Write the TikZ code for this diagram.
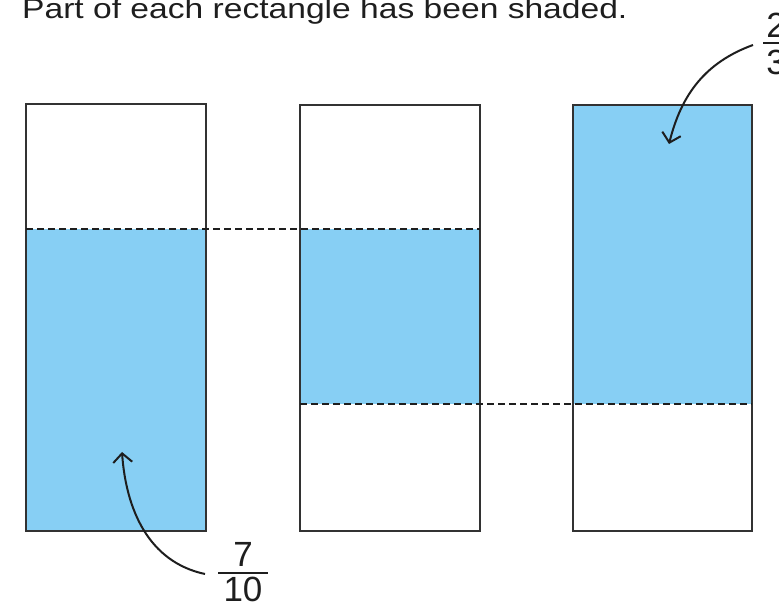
\documentclass[tikz,border=0pt]{standalone}
\usepackage{fontspec}
\setmainfont{Liberation Sans}
\usetikzlibrary{arrows.meta}
\definecolor{shadeblue}{RGB}{135,207,244}
\definecolor{edgegray}{RGB}{50,50,50}
\definecolor{inkblack}{RGB}{30,30,30}
\begin{document}
\begin{tikzpicture}[x=1pt,y=1pt,
  box/.style={draw=edgegray,line width=2.4pt,minimum width=180pt,minimum height=427pt,inner sep=0pt,outer sep=0pt},
  shadefill/.style={fill=shadeblue},
  dashline/.style={draw=inkblack,line width=2pt,dash pattern=on 7pt off 4pt},
  digit/.style={font=\fontsize{35}{40}\selectfont,text=inkblack,inner sep=0pt,anchor=base},
  fracbar/.style={draw=inkblack,line width=2.2pt},
  pointer/.style={draw=inkblack,line width=2pt,-{Straight Barb[length=9pt,width=19pt,line width=2pt]}}]
\useasboundingbox (0,0) rectangle (779,608);
\path (116,290.5) coordinate (c1) (390,290) coordinate (c2) (662.5,290) coordinate (c3);
% shading first
\fill[shadefill] (26,77) rectangle (206,379);
\fill[shadefill] (300,204) rectangle (480,379);
\fill[shadefill] (573,204) rectangle (752,503);
\node[box] (r1) at (c1) {};
\node[box,minimum width=180pt,minimum height=426pt] (r2) at (c2) {};
\node[box,minimum width=179pt,minimum height=426pt] (r3) at (c3) {};
% dashed guide lines
\draw[dashline] (r1.west |- 0,379) -- (r2.east |- 0,379);
\draw[dashline] (r2.west |- 0,204) -- (r3.east |- 0,204);
% title
\node[font=\fontsize{28}{34}\selectfont,text=inkblack,inner sep=0pt,anchor=base west] (title) at (22,589) {\scalebox{1.2}[1]{Part of each rectangle has been shaded.}};
% fraction 7/10
\coordinate (b710) at (243,35);
\node[digit] (n7) at (243,42) {7};
\node[digit] (d10) at (243,7) {10};
\draw[fracbar] ([xshift=-25pt]b710) coordinate (b710w) -- ([xshift=25pt]b710) coordinate (b710e);
% fraction 2/3
\coordinate (b23) at (776,565);
\node[digit] (n2) at (776,570) {2};
\node[digit] (d3) at (776,533) {3};
\draw[fracbar] ([xshift=-13pt]b23) coordinate (b23w) -- ([xshift=13pt]b23) coordinate (b23e);
% pointers
\coordinate (t1) at (122,156);
\coordinate (t3) at (669,464);
\draw[pointer] ([xshift=-13pt,yshift=-1pt]b710w) to[out=168,in=274] (t1);
\draw[pointer] ([xshift=-10pt,yshift=-2pt]b23w) to[out=200,in=76] (t3);
\end{tikzpicture}
\end{document}
